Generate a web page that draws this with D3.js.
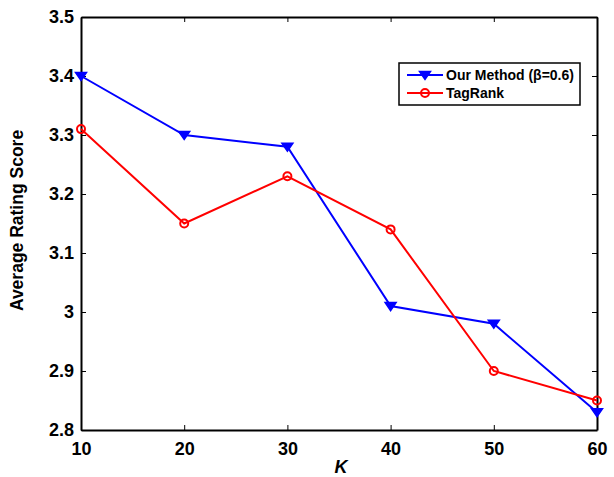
<!DOCTYPE html>
<html>
<head>
<meta charset="utf-8">
<script src="https://cdn.jsdelivr.net/npm/d3@7"></script>
<style>
  body { margin: 0; background: #fff; }
  text { font-family: "Liberation Sans", Arial, sans-serif; font-weight: bold; }
</style>
</head>
<body>
<svg id="chart" width="614" height="477"></svg>
<script>
var kValues = [10, 20, 30, 40, 50, 60]
var ourMethod = [3.40, 3.30, 3.28, 3.01, 2.98, 2.83]
var tagRank = [3.31, 3.15, 3.23, 3.14, 2.90, 2.85]
var yTicks = [2.8, 2.9, 3, 3.1, 3.2, 3.3, 3.4, 3.5]
var series = [
  { name: "Our Method (\u03b2=0.6)", values: ourMethod, color: "#0000ff", marker: "tri" },
  { name: "TagRank", values: tagRank, color: "#ff0000", marker: "circle" }
]

var plotL = 81, plotR = 597, plotT = 17, plotB = 430
var svg = d3.select("#chart")
var x = d3.scaleLinear().domain([10, 60]).range([plotL, plotR])
var y = d3.scaleLinear().domain([2.8, 3.5]).range([plotB, plotT])

function yFmt(d) { return d === 3 ? "3" : d3.format(".1f")(d) }

// axes, ticks inward
var xb = svg.append("g").attr("transform", "translate(0," + plotB + ")")
  .call(d3.axisBottom(x).tickValues(kValues).tickSizeInner(-5).tickSizeOuter(0).tickPadding(12))
var xt = svg.append("g").attr("transform", "translate(0," + plotT + ")")
  .call(d3.axisTop(x).tickValues(kValues).tickSizeInner(-5).tickSizeOuter(0).tickFormat(""))
var yl = svg.append("g").attr("transform", "translate(" + plotL + ",0)")
  .call(d3.axisLeft(y).tickValues(yTicks).tickFormat(yFmt).tickSizeInner(-5).tickSizeOuter(0).tickPadding(7))
var yr = svg.append("g").attr("transform", "translate(" + plotR + ",0)")
  .call(d3.axisRight(y).tickValues(yTicks).tickSizeInner(-5).tickSizeOuter(0).tickFormat(""))

svg.selectAll(".domain").attr("stroke", "#000").attr("stroke-width", 2)
svg.selectAll(".tick line").attr("stroke", "#000").attr("stroke-width", 1)
svg.selectAll(".tick text").attr("fill", "#000").style("font-size", "18px")
xb.selectAll(".tick text").attr("dy", "0.71em")

// lines and markers
var line = d3.line().x(function(d, i) { return x(kValues[i]) }).y(function(d) { return y(d) })
series.forEach(function(s) {
  svg.append("path").datum(s.values)
    .attr("d", line).attr("fill", "none")
    .attr("stroke", s.color).attr("stroke-width", 2)
  drawMarkers(svg, s, s.values.map(function(v, i) { return [x(kValues[i]), y(v)] }))
})

function drawMarkers(g, s, pts) {
  if (s.marker === "tri") {
    g.selectAll(null).data(pts).enter().append("path")
      .attr("d", function(p) { return "M" + (p[0] - 5.5) + "," + (p[1] - 3.5) + "L" + (p[0] + 5.5) + "," + (p[1] - 3.5) + "L" + p[0] + "," + (p[1] + 4.5) + "Z" })
      .attr("fill", s.color).attr("stroke", s.color).attr("stroke-width", 1.5)
  } else {
    g.selectAll(null).data(pts).enter().append("circle")
      .attr("cx", function(p) { return p[0] }).attr("cy", function(p) { return p[1] })
      .attr("r", 4).attr("fill", "none").attr("stroke", s.color).attr("stroke-width", 2)
  }
}

// legend
var lg = svg.append("g")
lg.append("rect").attr("x", 399).attr("y", 63).attr("width", 181).attr("height", 42)
  .attr("fill", "#fff").attr("stroke", "#000").attr("stroke-width", 1.5)
series.forEach(function(s, i) {
  var ly = 75 + i * 18
  lg.append("line").attr("x1", 407).attr("x2", 443).attr("y1", ly).attr("y2", ly)
    .attr("stroke", s.color).attr("stroke-width", 2)
  drawMarkers(lg, s, [[425, ly]])
  lg.append("text").attr("x", 446).attr("y", ly + 5).text(s.name).style("font-size", "14px")
})

// axis titles
svg.append("text").attr("x", (plotL + plotR) / 2 + 2).attr("y", 473).attr("text-anchor", "middle")
  .style("font-size", "18px").style("font-style", "italic").text("K")
svg.append("text").attr("transform", "translate(23," + ((plotT + plotB) / 2 - 3) + ") rotate(-90)")
  .attr("text-anchor", "middle").style("font-size", "17.5px").text("Average Rating Score")
</script>
</body>
</html>
